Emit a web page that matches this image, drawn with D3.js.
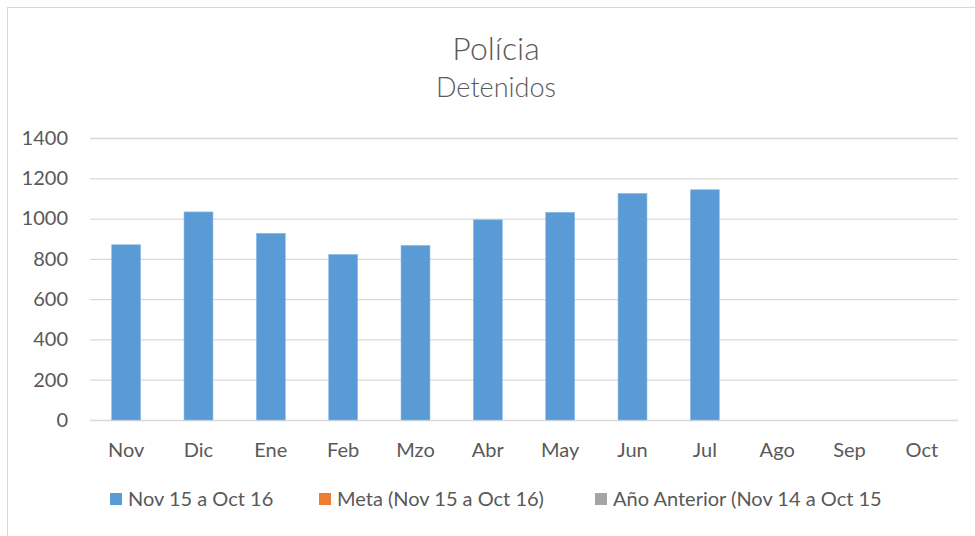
<!DOCTYPE html>
<html>
<head>
<meta charset="utf-8">
<script src="https://cdn.jsdelivr.net/npm/d3@7"></script>
<style>
  body { margin: 0; background: #fff; }
  svg text { font-family: Lato, "Open Sans", sans-serif; fill: #595959; }
</style>
</head>
<body>
<svg id="chart" width="975" height="536"></svg>
<script>
// data
const months = ['Nov', 'Dic', 'Ene', 'Feb', 'Mzo', 'Abr', 'May', 'Jun', 'Jul', 'Ago', 'Sep', 'Oct'];
const detenidos = [870, 1033, 927, 822, 867, 994, 1031, 1125, 1143, null, null, null];
const y_ticks = [0, 200, 400, 600, 800, 1000, 1200, 1400];
const series_names = ['Nov 15 a Oct 16', 'Meta (Nov 15 a Oct 16)', 'Año Anterior (Nov 14 a Oct 15'];
const series_colors = ['#5B9BD5', '#ED7D31', '#A5A5A5'];

const svg = d3.select('#chart');
const plot = { left: 90, right: 958, top: 138, bottom: 420 };

// chart frame
svg.append('rect')
    .attr('x', 7.5).attr('y', 7.5)
    .attr('width', 975).attr('height', 540)
    .attr('fill', 'none')
    .attr('stroke', '#D9D9D9');

const x = d3.scaleBand().domain(months).range([plot.left, plot.right]);
const y = d3.scaleLinear().domain([0, 1400]).range([plot.bottom, plot.top]);

// title
svg.append('text')
    .attr('x', 496).attr('y', 60)
    .attr('text-anchor', 'middle')
    .style('font-size', '32px')
    .style('font-weight', 300)
    .text('Polícia');
svg.append('text')
    .attr('x', 496).attr('y', 97)
    .attr('text-anchor', 'middle')
    .style('font-size', '27px')
    .style('font-weight', 300)
    .text('Detenidos');

// gridlines + y labels
const y_axis = d3.axisLeft(y).tickValues(y_ticks).tickFormat(d3.format('d'))
    .tickSize(-(plot.right - plot.left)).tickPadding(22);
const y_g = svg.append('g')
    .attr('transform', `translate(${plot.left},0)`)
    .call(y_axis);
y_g.select('.domain').remove();
y_g.selectAll('line').attr('stroke', '#D9D9D9').attr('stroke-width', 1.3);
y_g.selectAll('text').style('font-size', '20px').attr('fill', '#595959')
    .attr('font-family', 'Lato');

// x labels
const x_g = svg.append('g')
    .attr('transform', `translate(0,${plot.bottom})`)
    .call(d3.axisBottom(x).tickSize(0).tickPadding(23));
x_g.select('.domain').remove();
x_g.selectAll('text').style('font-size', '20px').attr('fill', '#595959')
    .attr('font-family', 'Lato');

// bars
const bar_w = x.bandwidth() * 0.4;
svg.selectAll('.bar')
    .data(months.map((m, i) => ({ month: m, value: detenidos[i] })).filter(d => d.value != null))
    .enter()
    .append('rect')
    .attr('class', 'bar')
    .attr('x', d => x(d.month) + (x.bandwidth() - bar_w) / 2)
    .attr('y', d => y(d.value))
    .attr('width', bar_w)
    .attr('height', d => y(0) - y(d.value))
    .attr('fill', series_colors[0])
    .attr('stroke', '#8DBBE6')
    .attr('stroke-width', 0.6);

// legend
const legend_x = [110, 319, 595];
const legend = svg.selectAll('.legend')
    .data(series_names)
    .enter()
    .append('g')
    .attr('transform', (d, i) => `translate(${legend_x[i]},493)`);
legend.append('rect')
    .attr('width', 12).attr('height', 12)
    .attr('fill', (d, i) => series_colors[i]);
legend.append('text')
    .attr('x', 18).attr('y', 13)
    .style('font-size', '20px')
    .text(d => d);
</script>
</body>
</html>
